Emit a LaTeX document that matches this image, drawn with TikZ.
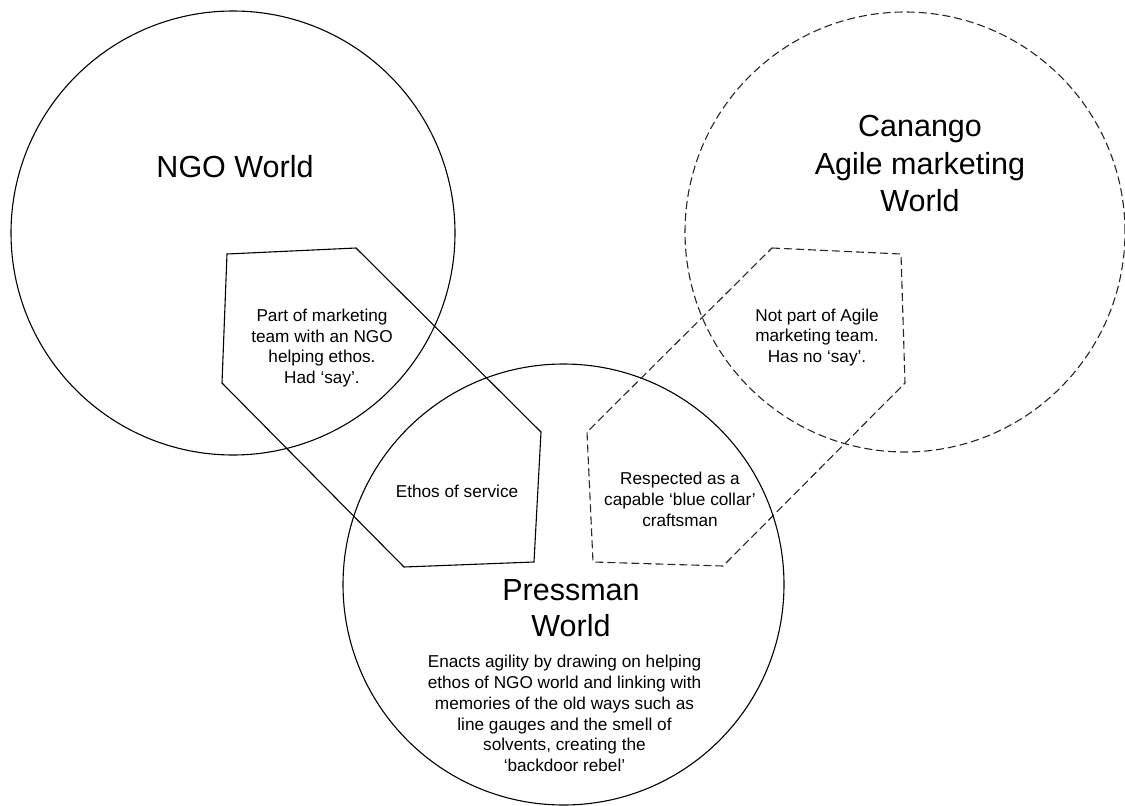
\documentclass[tikz,border=0pt]{standalone}
\usepackage{fontspec}
\setmainfont{Liberation Sans}
\begin{document}
\begin{tikzpicture}[x=1pt,y=-1pt,
  solidline/.style={draw=black, line width=1.1pt},
  dashline/.style={draw=black!85, line width=1.1pt, dash pattern=on 8pt off 4pt},
  bigtext/.style={inner sep=0pt, align=center, font=\fontsize{30.5}{37.5}\selectfont},
  smalltext/.style={inner sep=0pt, align=center, font=\fontsize{17.2}{20.7}\selectfont}]
\useasboundingbox (0,0) rectangle (1125,806);

% circle centres
\coordinate (ngoC) at (233,233);
\coordinate (canC) at (905,232);
\coordinate (preC) at (563.5,584.5);

\draw[solidline] (ngoC) circle (222pt);
\draw[dashline] (canC) circle (220pt);
\draw[solidline] (preC) circle (220.5pt);

% solid polygon
\coordinate (s1) at (227,254);
\coordinate (s2) at (356,248);
\coordinate (s3) at (541,432);
\coordinate (s4) at (534,562);
\coordinate (s5) at (404,567);
\coordinate (s6) at (222,383);
\draw[solidline] (s1) -- (s2) -- (s3) -- (s4) -- (s5) -- (s6) -- cycle;

% dashed polygon
\coordinate (d1) at (772,248);
\coordinate (d2) at (901,254);
\coordinate (d3) at (905,383);
\coordinate (d4) at (723,566);
\coordinate (d5) at (593,562);
\coordinate (d6) at (587,432);
\draw[dashline] (d1) -- (d2) -- (d3) -- (d4) -- (d5) -- (d6) -- cycle;

% texts
\node[bigtext, anchor=base] (ngo) at (235,177) {NGO World};
\node[bigtext] (can) at (920,163.5) {Canango\\Agile marketing\\World};
\node[bigtext, font=\fontsize{30.5}{36.5}\selectfont] (pre) at (571,608.2) {Pressman\\World};

\node[smalltext] (ngot) at (322,348) {Part of marketing\\team with an NGO\\helping ethos.\\Had ‘say’.};
\node[smalltext, anchor=base] (eth) at (457,497) {Ethos of service};
\node[smalltext] (nott) at (817,337.5) {Not part of Agile\\marketing team.\\Has no ‘say’.};
\node[smalltext] (resp) at (680,499.5) {Respected as a\\capable ‘blue collar’\\craftsman};
\node[smalltext] (enact) at (564.5,713.5) {Enacts agility by drawing on helping\\ethos of NGO world and linking with\\memories of the old ways such as\\line gauges and the smell of\\solvents, creating the\\‘backdoor rebel’};
\end{tikzpicture}
\end{document}
